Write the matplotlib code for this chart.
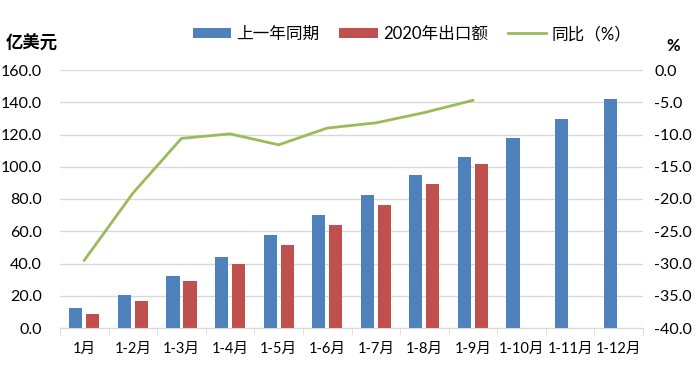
import numpy as np
import matplotlib.pyplot as plt
from matplotlib.ticker import FixedLocator, NullFormatter

plt.rcParams['font.family'] = ['Lato', 'Noto Sans CJK SC', 'DejaVu Sans']

# ===============================
# 数据
# ===============================
months = ["1月", "1-2月", "1-3月", "1-4月", "1-5月", "1-6月",
          "1-7月", "1-8月", "1-9月", "1-10月", "1-11月", "1-12月"]
last_year = [12.7, 20.7, 32.3, 43.9, 57.6, 70.2, 82.7, 95.0, 106.2, 117.6, 129.4, 141.9]
export_2020 = [8.5, 16.8, 29.4, 39.6, 51.2, 63.6, 76.4, 89.1, 101.5]
yoy = [-29.5, -19.1, -10.6, -9.9, -11.6, -9.0, -8.2, -6.6, -4.7]

blue = "#4F81BD"
red = "#C0504D"
green = "#9BBB59"

fig = plt.figure(figsize=(7.0, 3.83), dpi=100)
ax = fig.add_axes([60 / 700, 55 / 383, 583 / 700, 258 / 383])
ax2 = ax.twinx()

x = np.arange(len(months))
w = 0.27
off = 0.175

ax.bar(x - off, last_year, width=w, color=blue, label="上一年同期", zorder=2)
ax.bar(np.arange(len(export_2020)) + off, export_2020, width=w, color=red,
       label="2020年出口额", zorder=2)
ax2.plot(np.arange(len(yoy)), yoy, color=green, linewidth=2, label="同比（%）")

# 左轴
ax.set_ylim(0, 160)
ax.set_yticks(np.arange(0, 161, 20))
ax.set_yticklabels([f"{v:.1f}" for v in np.arange(0, 161, 20)], fontsize=11.5)
ax.yaxis.grid(True, color="#D9D9D9", linewidth=1, zorder=0)
ax.set_axisbelow(True)

# 右轴
ax2.set_ylim(-40, 0)
ax2.set_yticks(np.arange(-40, 1, 5))
ax2.set_yticklabels([f"{v:.1f}" for v in np.arange(-40, 1, 5)], fontsize=11.5)

ax.set_xlim(-0.5, len(months) - 0.5)
ax.set_xticks(x)
ax.set_xticklabels(months, fontsize=10.5)
ax.tick_params(axis="x", length=0, pad=10)
ax.xaxis.set_minor_locator(FixedLocator(np.arange(-0.5, len(months), 1)))
ax.xaxis.set_minor_formatter(NullFormatter())
ax.tick_params(axis="x", which="minor", length=5, color="#D9D9D9")
ax.tick_params(axis="y", length=0, pad=13)
ax2.tick_params(axis="y", length=0, pad=8)

for a in (ax, ax2):
    for s in ["top", "left", "right"]:
        a.spines[s].set_visible(False)
    a.spines["bottom"].set_color("#D9D9D9")
ax2.spines["bottom"].set_visible(False)

fig.text(6 / 700, 1 - 43 / 383, "亿美元", fontsize=12.5, fontweight="bold", va="center")
fig.text(666 / 700, 1 - 46 / 383, "%", fontsize=12, fontweight="bold", va="center")

h1, l1 = ax.get_legend_handles_labels()
h2, l2 = ax2.get_legend_handles_labels()
fig.legend(h1 + h2, l1 + l2, loc="center", bbox_to_anchor=(412 / 700, 1 - 34 / 383),
           ncol=3, frameon=False, fontsize=12, handlelength=2.3, handleheight=0.6,
           columnspacing=1.2, handletextpad=0.3)

fig.savefig("out.png", dpi=100)
